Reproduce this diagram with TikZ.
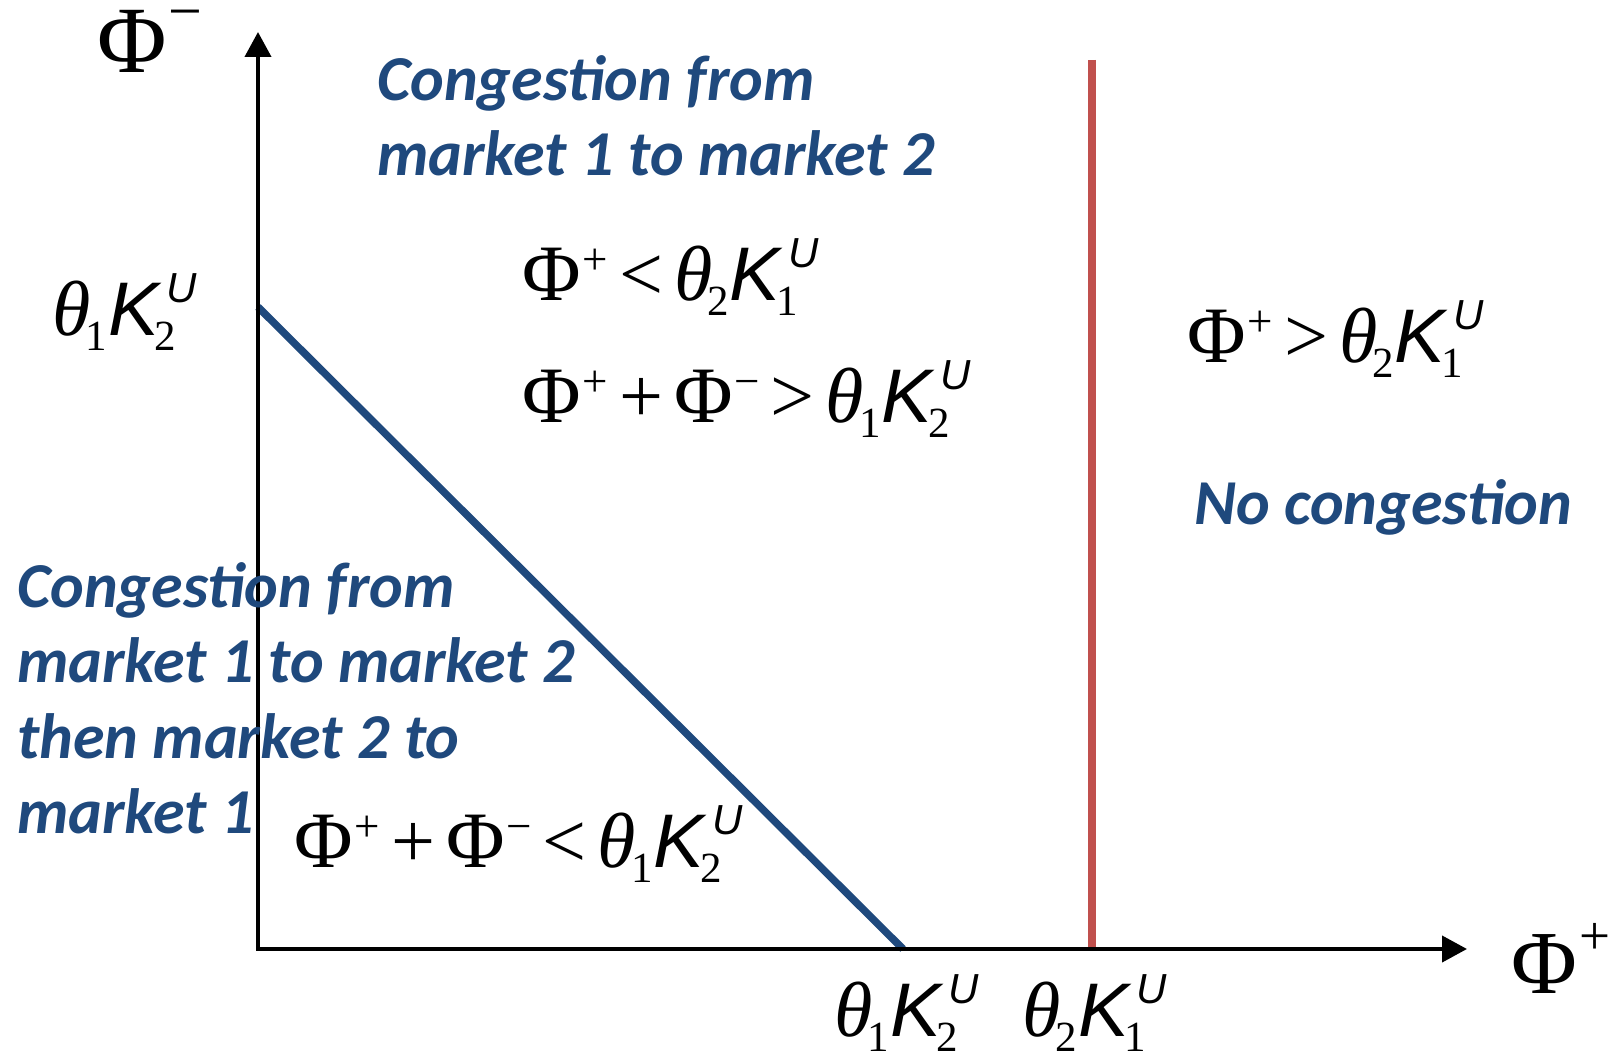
\documentclass[tikz,border=0pt]{standalone}
\usepackage{fontspec}
\usetikzlibrary{arrows.meta}
\setmainfont{Liberation Serif}
\newfontfamily\tms{Liberation Serif}
\newfontfamily\arl{Liberation Sans}
\newfontfamily\carl{Carlito}
\definecolor{dblue}{HTML}{1F497D}
\definecolor{dred}{HTML}{C0504D}
% formula pieces (main size 78)
\newcommand\scr{\fontsize{43}{43}\selectfont}
\newcommand\Ph{{\fontsize{80}{80}\selectfont Φ}}
\newcommand\up[1]{\kern2pt\raisebox{26pt}{\fontsize{45}{45}\selectfont#1}}
\newcommand\thx[1]{{\itshape θ}\kern-5pt\raisebox{-15pt}{\scr#1}}
\newcommand\KU[1]{\kern1pt{\arl\itshape\fontsize{76}{76}\selectfont K}\rlap{\kern-4pt\raisebox{-15pt}{\scr#1}}\kern8pt\raisebox{33pt}{\arl\itshape\fontsize{42}{42}\selectfont U}}
\newcommand\rel[1]{\kern11pt#1\kern11pt}
\tikzset{
  axis/.style={line width=4pt,-{Triangle[length=25pt,width=26pt]}},
  formula/.style={anchor=base west,inner sep=0pt,font=\tms\fontsize{78}{78}\selectfont},
  bluetext/.style={anchor=base west,inner sep=0pt,align=left,text=dblue,font=\carl\bfseries\itshape\fontsize{64}{75.5}\selectfont},
  axlabel/.style={anchor=base west,inner sep=0pt,font=\tms}
}
\begin{document}
\begin{tikzpicture}[x=1pt,y=-1pt]
\useasboundingbox[fill=white] (0,0) rectangle (1618,1057);
\coordinate (O) at (258,949);
\coordinate (ytop) at (258,32);
\coordinate (xend) at (1467,949);
\coordinate (bA) at (258,307);
\coordinate (bB) at (903,949);
\coordinate (rA) at (1092,60);
\coordinate (rB) at (1092,949);
% lines
\draw[dblue,line width=7.5pt] (bA) -- (bB);
\draw[dred,line width=8pt] (rA) -- (rB);
\draw[axis] ([xshift=-2pt]O) -- (xend);
\draw[axis] ([yshift=2pt]O) -- (ytop);
% axis labels
\node[axlabel] (phim) at (97,73) {\fontsize{95}{95}\selectfont Φ\kern2pt\raisebox{41pt}{\fontsize{60}{60}\selectfont −}};
\node[axlabel] (phip) at (1511,993) {\fontsize{90}{90}\selectfont Φ\kern2pt\raisebox{39pt}{\fontsize{55}{55}\selectfont +}};
% tick labels
\node[formula] (yt) at (52,335) {\thx{1}\KU{2}};
\node[formula] (xt1) at (834,1036) {\thx{1}\KU{2}};
\node[formula] (xt2) at (1022,1036) {\thx{2}\KU{1}};
% region formulas
\node[formula] (f1) at (522,300) {\Ph\up{+}\rel{<}\thx{2}\KU{1}};
\node[formula] (f2) at (522,422) {\Ph\up{+}\rel{+}\Ph\up{−}\rel{>}\thx{1}\KU{2}};
\node[formula] (f3) at (1187,362) {\Ph\up{+}\rel{>}\thx{2}\KU{1}};
\node[formula] (f4) at (294,867) {\Ph\up{+}\rel{+}\Ph\up{−}\rel{<}\thx{1}\KU{2}};
% blue texts
\node[bluetext] (t1) at (377,175.5) {Congestion from\\market 1 to market 2};
\node[bluetext] (t2) at (17,833.5) {Congestion from\\market 1 to market 2\\then market 2 to\\market 1};
\node[bluetext] (t3) at (1194,524) {No congestion};
\end{tikzpicture}
\end{document}
